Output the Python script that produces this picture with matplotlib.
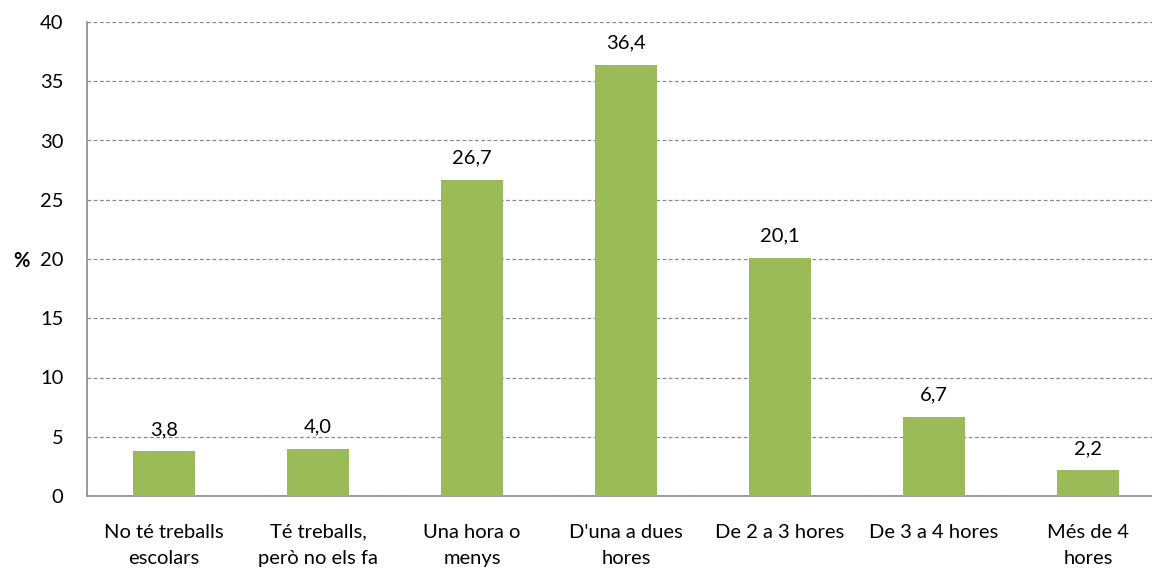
import numpy as np
import matplotlib.pyplot as plt

categories = ["No té treballs\nescolars", "Té treballs,\nperò no els fa", "Una hora o\nmenys",
              "D'una a dues\nhores", "De 2 a 3 hores", "De 3 a 4 hores", "Més de 4\nhores"]
values = [3.8, 4.0, 26.7, 36.4, 20.1, 6.7, 2.2]
labels = ["3,8", "4,0", "26,7", "36,4", "20,1", "6,7", "2,2"]

plt.rcParams["font.family"] = ["Lato", "DejaVu Sans"]

fig = plt.figure(figsize=(11.52, 5.7), dpi=100)
ax = fig.add_axes([87 / 1152, 1 - 496 / 570, 1078 / 1152, 474 / 570])

x = np.arange(len(values))
ax.bar(x, values, width=0.4, color="#9BBB59", zorder=3)
for xi, v, lab in zip(x, values, labels):
    ax.text(xi, v + 1.1, lab, ha="center", va="bottom", fontsize=14.5, color="black")

ax.set_xlim(-0.5, len(values) - 0.5)
ax.set_ylim(0, 40)
ax.set_yticks(range(0, 41, 5))
ax.set_xticks(x)
ax.set_xticklabels(categories, fontsize=14.5, linespacing=1.65)
ax.tick_params(axis="y", labelsize=14.5, length=0, pad=17)
ax.tick_params(axis="x", length=0, pad=20)
ax.yaxis.grid(True, linestyle=(0, (3, 2)), color="#8a8a8a", linewidth=0.9, zorder=0)
for s in ["top", "right"]:
    ax.spines[s].set_visible(False)
ax.spines["left"].set_color("#8a8a8a")
ax.spines["bottom"].set_color("#8a8a8a")
ax.spines["left"].set_linewidth(1.2)
ax.spines["bottom"].set_linewidth(1.2)

fig.text(13 / 1152, 1 - 261 / 570, "%", fontsize=14.5, fontweight="bold", va="center", ha="left")

fig.savefig("out.png", dpi=100)
